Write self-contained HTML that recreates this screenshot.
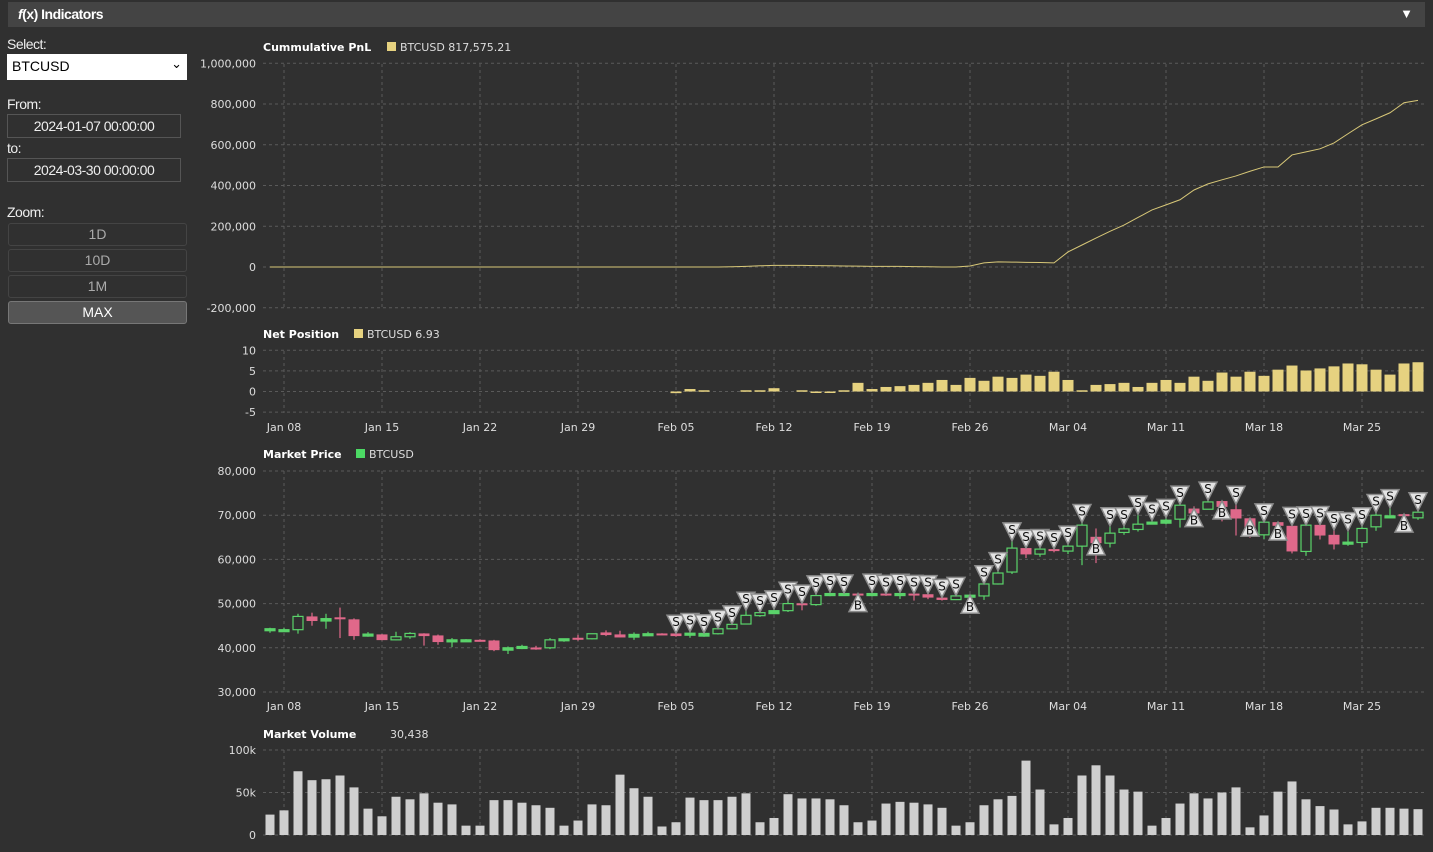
<!DOCTYPE html>
<html><head><meta charset="utf-8">
<style>
html,body{margin:0;padding:0;background:#303030;width:1433px;height:852px;overflow:hidden;font-family:"Liberation Sans",sans-serif;}
.n{font-family:"Liberation Sans Narrow","Liberation Sans",sans-serif;}
#hdr{position:absolute;left:8px;top:2px;width:1417px;height:25px;background:#444;}
#hdr .t{position:absolute;left:10px;top:4px;color:#fff;font-weight:bold;font-size:14px;letter-spacing:-0.5px;}
#hdr .a{position:absolute;right:12px;top:4px;color:#fff;font-size:13px;}
.lbl{position:absolute;left:7px;color:#eee;font-size:14px;letter-spacing:-0.5px;}
.sel{position:absolute;left:7px;top:54px;width:180px;height:26px;background:#fff;color:#000;font-size:14px;box-sizing:border-box;padding:4px 5px;}
.sel span{position:absolute;right:5px;top:2px;font-size:13px;}
.inp{position:absolute;left:7px;width:174px;height:24px;border:1px solid #555;box-sizing:border-box;color:#eee;font-size:14px;text-align:center;line-height:22px;letter-spacing:-0.5px;}
.btn{position:absolute;left:8px;width:179px;height:23px;border:1px solid #444;border-radius:3px;box-sizing:border-box;color:#aaa;font-size:14px;text-align:center;line-height:21px;background:#303030;}
.btn.on{background:#555;border-color:#777;color:#fff;}
svg{position:absolute;left:0;top:0;}
</style></head><body>
<div id="hdr"><span class="t n"><i>f</i>(x) Indicators</span><span class="a">▼</span></div>
<div class="lbl n" style="top:36px">Select:</div>
<div class="sel n">BTCUSD<span>&#8964;</span></div>
<div class="lbl n" style="top:96px">From:</div>
<div class="inp n" style="top:114px">2024-01-07 00:00:00</div>
<div class="lbl n" style="top:140px">to:</div>
<div class="inp n" style="top:158px">2024-03-30 00:00:00</div>
<div class="lbl n" style="top:204px">Zoom:</div>
<div class="btn n" style="top:223px">1D</div>
<div class="btn n" style="top:249px">10D</div>
<div class="btn n" style="top:275px">1M</div>
<div class="btn n on" style="top:301px">MAX</div>
<svg id="c" width="1433" height="852" xmlns="http://www.w3.org/2000/svg"></svg>
<script>
const weekLabels=["Jan 08","Jan 15","Jan 22","Jan 29","Feb 05","Feb 12","Feb 19","Feb 26","Mar 04","Mar 11","Mar 18","Mar 25"];
const pnl=[0,0,0,0,0,0,0,0,0,0,0,0,0,0,0,0,0,0,0,0,0,0,0,0,0,0,0,0,0,0,0,0,0,1000,3000,6000,8000,8000,8000,7000,6000,5000,4000,3000,3000,3000,2000,1000,0,0,5000,20000,25000,24000,23000,22000,20000,74000,108000,142000,175000,206000,243000,280000,305000,330000,378000,408000,428000,447000,470000,491000,491000,550000,565000,580000,609000,654000,698000,727000,757000,806000,817575];
const netPos=[0,0,0,0,0,0,0,0,0,0,0,0,0,0,0,0,0,0,0,0,0,0,0,0,0,0,0,0,0,-0.4,0.6,0.3,0,0,0.3,0.3,0.8,0,0.3,-0.3,-0.3,0.3,2.1,0.6,1.1,1.3,1.6,2.1,2.8,1.6,3.3,2.6,3.6,3.3,4.1,3.8,4.8,2.8,0.3,1.6,1.8,2.1,1.1,2.1,2.8,2.1,3.6,2.6,4.6,3.6,4.8,3.8,5.3,6.3,5.1,5.6,6.1,6.8,6.6,5.3,4.1,6.8,7.1];
const opens=[44010,44000,44100,47100,46060,46900,46440,43000,43030,41800,42500,43250,42800,41360,41800,41810,41660,39470,40000,40070,40000,41740,42270,42040,43480,43030,42420,43100,43250,43250,43180,42650,43180,44300,45380,47270,47730,48400,50070,49770,52050,52100,52270,51900,52270,51820,52270,52120,51360,50900,51670,51730,54440,57140,62560,61200,62330,61880,63000,65110,63680,66100,66770,68200,68200,69100,71500,71350,73200,71350,69300,65560,68420,67600,61800,67820,65560,63700,63830,67370,69780,70230,69400];
const highs=[44540,44500,47700,47950,47700,49100,46660,43550,43100,43630,43550,43300,43000,42200,41960,41900,41800,40300,40680,40450,42200,42100,42950,43250,43940,43860,43480,43630,43300,43300,43700,43400,44400,45400,48500,48100,48800,50750,50100,52200,52650,52400,52300,52600,52300,52570,52300,52270,51400,51850,52000,54500,57450,64200,62600,62700,62400,63460,68350,67000,67600,67600,70230,68800,69500,72500,72000,73400,73300,72480,69400,68500,68500,67700,67800,67900,66700,66500,67600,70600,71700,70300,71000];
const lows=[43400,43600,43200,45000,44300,42200,41800,42500,41700,41700,42040,40500,40700,40150,41660,41700,39240,38600,39700,39550,39700,41360,41600,41900,42650,42340,41800,42650,42900,42500,42270,42500,43000,44200,45300,47000,47600,48100,48480,49500,51670,51900,51700,51600,51750,51060,50680,51000,50680,50800,51500,50830,54300,56700,60300,60600,61600,61200,58700,59170,62700,65560,66300,67950,67900,67200,69400,71350,68600,65400,64900,64600,67400,61350,60800,64500,62250,63080,62700,66470,69620,69700,68950];
const closes=[44315,44100,47100,46060,46600,46500,42650,43100,41740,42500,43250,42650,41300,41800,41810,41780,39470,40000,40300,39920,41800,42040,42190,43180,42880,42340,43030,43180,42950,42650,43300,43250,44300,45300,47350,47950,48400,50000,49770,51820,52270,52270,51820,52270,51820,52270,51820,51360,50830,51740,51900,54440,56920,62560,61130,62330,61880,63000,67750,63680,65940,66900,67970,68430,68870,72260,70400,73000,71880,69250,65300,68420,67600,61800,67750,65400,63380,63900,67000,70000,69850,69850,70680];
const signals="                             SSSSSSSSSSSSSBSSSSSSSBSSSSSSSSBSSSSSSBSBSBSBSSSSSSSSBS".split("");
const volume=[24,29,75,64.5,65.6,70,56,31,22,45,42,49,38,36,11,11,41,41,38,35,32,11,17,36,35,71,55,45,10,15,44,41,41,45,49,15,20,48,43,43,42,35,15,17,37,39,38,36,32,11,15,35,42,46,87.5,53.5,12.5,20,70,82,70,53.5,51,11,20,37,49,43,50,56,9,23,51,63,42,34,30,12.5,16,32,32,31,30.4];
const pnlTicks=[1000000,800000,600000,400000,200000,0,-200000];
const netTicks=[10,5,0,-5];
const priceTicks=[80000,70000,60000,50000,40000,30000];
const volTicks=[100,50,0];
const volTickLabels=["100k","50k","0"];

const NS="http://www.w3.org/2000/svg";
const svg=document.getElementById('c');
const X0=263,X1=1425;
const xDay=i=>270+i*14.0;
const yP=v=>267-v/200000*40.75;
const yN=v=>391.5-v*4.12;
const yPr=v=>471+(80000-v)/10000*44.2;
const yV=v=>835-v/100*85;
function mk(tag,attrs,parent){const e=document.createElementNS(NS,tag);for(const k in attrs)e.setAttribute(k,attrs[k]);(parent||svg).appendChild(e);return e;}
function txt(s,x,y,anchor,size,fill,weight,parent){const t=mk('text',{x:x,y:y,'text-anchor':anchor,'font-size':size,fill:fill,'font-weight':weight||'normal','font-family':'DejaVu Sans, sans-serif'},parent);t.textContent=s;return t;}
const fmt=v=>v.toLocaleString('en-US');
const defs=mk('defs',{});
const cp=mk('clipPath',{id:'lc'},defs);mk('rect',{x:200,y:0,width:1233,height:852},cp);

function panel(name,top,bottom,ticks,labels,yf){
  const g=mk('g',{'clip-path':'url(#lc)'});
  
  
  ticks.forEach((t,k)=>{
    const l=mk('line',{x1:X0,x2:X1,y1:yf(t),y2:yf(t),stroke:'#5a5a5a','stroke-dasharray':'3,3'},g);
    
    
    const tl=txt(labels[k],256,yf(t)+4,'end',11,'#ddd','normal',g);
    
    
  });
  weekLabels.forEach((w,k)=>{
    const x=xDay(1+7*k);
    const l=mk('line',{x1:x,x2:x,y1:top,y2:bottom,stroke:'#5a5a5a','stroke-dasharray':'3,3'},g);
    
    
  });
  return g;
}
function xLabels(y,name){
  weekLabels.forEach((w,k)=>{const t=txt(w,xDay(1+7*k),y,'middle',11,'#ddd');
    
    });
}
function title(s,y,legendColor,legendText,lx){
  const t=txt(s,263,y,'start',11,'#fff','bold');
  
  
  if(legendColor){const r=mk('rect',{x:lx,y:y-9,width:9,height:9,fill:legendColor});
    
    }
  const lt=txt(legendText,legendColor?lx+13:lx,y,'start',11,'#ddd');
  
  
}
// PnL
panel('pnl',64,308,pnlTicks,pnlTicks.map(fmt),yP);
title('Cummulative PnL',51,'#e6d280','BTCUSD 817,575.21',387);
const pl=mk('polyline',{points:pnl.map((v,i)=>xDay(i)+','+yP(v)).join(' '),fill:'none',stroke:'#d8c878','stroke-width':1});


// Net position
panel('net',351,413,netTicks,netTicks.map(String),yN);
title('Net Position',338,'#e6d280','BTCUSD 6.93',354);
netPos.forEach((v,i)=>{
  if(v===0)return;
  const y0=yN(0),y1=yN(v);
  const h=Math.max(Math.abs(y1-y0),1.5);
  const r=mk('rect',{x:xDay(i)-5.5,y:Math.min(y0,y1),width:11,height:h,fill:'#e6d280'});
  
  
});
xLabels(431,'net');
// Price
panel('price',471,692,priceTicks,priceTicks.map(fmt),yPr);
title('Market Price',458,'#4cd964','BTCUSD',356);
opens.forEach((o,i)=>{
  const c=closes[i],up=c>=o,col=up?'#5ad36a':'#e0688a',x=xDay(i);
  const g=mk('g',{});
  
  
  mk('line',{x1:x,x2:x,y1:yPr(highs[i]),y2:yPr(lows[i]),stroke:col,'stroke-width':1.2},g);
  const yt=yPr(Math.max(o,c)),yb=yPr(Math.min(o,c));
  const h=Math.max(yb-yt,2);
  if(up) mk('rect',{x:x-5,y:yt,width:10,height:h,fill:h<=3?col:'#303030',stroke:col,'stroke-width':1.2},g);
  else mk('rect',{x:x-5.5,y:yt,width:11,height:h,fill:col},g);
});
signals.forEach((s,i)=>{
  if(s!=='S'&&s!=='B')return;
  const x=xDay(i);
  const g=mk('g',{});
  
  
  if(s==='S'){const yt=yPr(highs[i]);
    mk('polygon',{points:(x-9)+','+(yt-18)+' '+(x+9)+','+(yt-18)+' '+x+','+yt,fill:'#e4e4e4',stroke:'#8a8a8a','stroke-width':1.5},g);
    txt('S',x,yt-7,'middle',12,'#111','normal',g);}
  else {const yt=yPr(Math.max(opens[i],closes[i]));
    mk('polygon',{points:x+','+yt+' '+(x-9)+','+(yt+18)+' '+(x+9)+','+(yt+18),fill:'#e4e4e4',stroke:'#8a8a8a','stroke-width':1.5},g);
    txt('B',x,yt+16,'middle',12,'#111','normal',g);}
});
xLabels(710,'price');
// Volume
panel('volume',750,835,volTicks,volTickLabels,yV);
title('Market Volume',738,null,'30,438',390);
volume.forEach((v,i)=>{
  const r=mk('rect',{x:xDay(i)-4.5,y:yV(v),width:9,height:yV(0)-yV(v),fill:'#cfcfcf'});
  
  
});
</script>
</body></html>
